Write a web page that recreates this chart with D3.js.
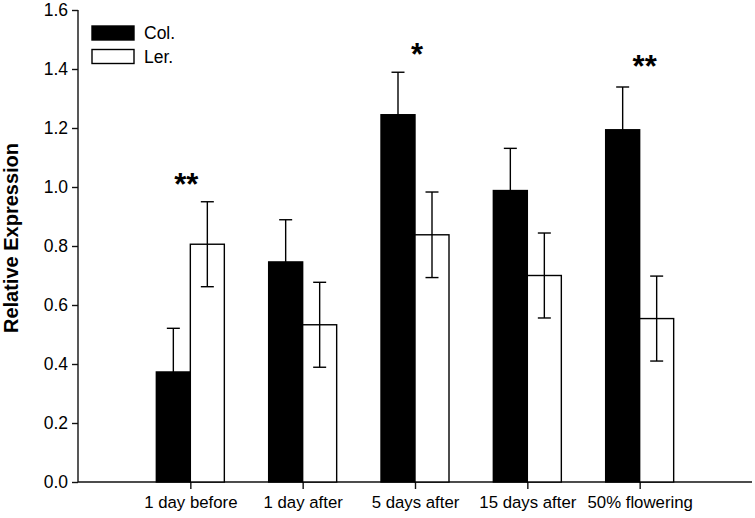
<!DOCTYPE html>
<html lang="en">
<head>
  <meta charset="UTF-8" />
  <title>Relative Expression</title>
  <script src="https://cdn.jsdelivr.net/npm/d3@7/dist/d3.min.js"></script>
  <style>
    body { margin: 0; background: #fff; }
    text { font-family: "Liberation Sans", Arial, sans-serif; fill: #000; }
  </style>
</head>
<body>
  <svg width="755" height="518"></svg>

  <script>
    // data
    const categories = ['1 day before', '1 day after', '5 days after', '15 days after', '50% flowering'];
    const colValues = [0.373, 0.746, 1.245, 0.988, 1.194];
    const colErrors = [0.148, 0.143, 0.144, 0.143, 0.145];
    const lerValues = [0.806, 0.533, 0.838, 0.700, 0.554];
    const lerErrors = [0.144, 0.144, 0.145, 0.144, 0.144];
    const yTicks = [0, 0.2, 0.4, 0.6, 0.8, 1.0, 1.2, 1.4, 1.6];
    // significance marks: category index, label, y value of text centre, x shift
    const marks = [
      { i: 0, text: '**', y: 1.02, dx: -4 },
      { i: 2, text: '*', y: 1.46, dx: 2 },
      { i: 4, text: '**', y: 1.42, dx: 5 },
    ];

    const svg = d3.select('svg');
    const plotL = 78, plotR = 752, plotT = 10, plotB = 482;
    const barW = 34;

    // categories sit on slots 1..5 of a 0..6 scale
    const x = d3.scaleLinear().domain([0, categories.length + 1]).range([plotL, plotR]);
    const y = d3.scaleLinear().domain([0, 1.6]).range([plotB, plotT]);

    // y axis
    const yAxis = svg.append('g')
      .attr('transform', `translate(${plotL},0)`)
      .call(d3.axisLeft(y).tickValues(yTicks).tickFormat(d3.format('.1f')).tickSize(6).tickPadding(4));
    yAxis.select('.domain').attr('d', `M0,${plotT}V${plotB}`);
    yAxis.selectAll('text').style('font-size', '17.5px');

    // x axis
    const xAxis = svg.append('g')
      .attr('transform', `translate(0,${plotB})`)
      .call(d3.axisBottom(x)
        .tickValues(categories.map((d, i) => i + 1))
        .tickFormat((d) => categories[d - 1])
        .tickSize(7).tickPadding(7));
    xAxis.select('.domain').attr('d', `M${plotL},0H${plotR}`);
    xAxis.selectAll('text').style('font-size', '16.8px');

    svg.selectAll('.domain, .tick line').attr('stroke', '#111').attr('stroke-width', 1.4);

    // bars
    const series = [
      { name: 'Col.', values: colValues, errors: colErrors, fill: '#000', off: -barW },
      { name: 'Ler.', values: lerValues, errors: lerErrors, fill: '#fff', off: 0 },
    ];

    series.forEach((s) => {
      const g = svg.append('g');
      g.selectAll('rect')
        .data(s.values)
        .enter()
        .append('rect')
        .attr('x', (d, i) => x(i + 1) + s.off)
        .attr('y', (d) => y(d))
        .attr('width', barW)
        .attr('height', (d) => y(0) - y(d))
        .attr('fill', s.fill)
        .attr('stroke', '#000')
        .attr('stroke-width', 1.4);

      // error bars
      const eb = g.selectAll('g.err')
        .data(s.values.map((v, i) => ({ v, e: s.errors[i], cx: x(i + 1) + s.off + barW / 2 })))
        .enter()
        .append('g')
        .attr('class', 'err')
        .attr('stroke', '#000')
        .attr('stroke-width', 1.4);
      eb.append('line')
        .attr('x1', (d) => d.cx).attr('x2', (d) => d.cx)
        .attr('y1', (d) => y(d.v - d.e)).attr('y2', (d) => y(d.v + d.e));
      eb.append('line')
        .attr('x1', (d) => d.cx - 6.5).attr('x2', (d) => d.cx + 6.5)
        .attr('y1', (d) => y(d.v + d.e)).attr('y2', (d) => y(d.v + d.e));
      eb.append('line')
        .attr('x1', (d) => d.cx - 6.5).attr('x2', (d) => d.cx + 6.5)
        .attr('y1', (d) => y(d.v - d.e)).attr('y2', (d) => y(d.v - d.e));
    });

    // significance asterisks
    svg.append('g')
      .selectAll('text')
      .data(marks)
      .enter()
      .append('text')
      .attr('x', (d) => x(d.i + 1) + d.dx)
      .attr('y', (d) => y(d.y) + 14)
      .attr('text-anchor', 'middle')
      .style('font-size', '31px')
      .style('font-weight', 'bold')
      .text((d) => d.text);

    // legend
    const legend = svg.append('g')
      .selectAll('g')
      .data(series)
      .enter()
      .append('g')
      .attr('transform', (d, i) => `translate(92,${26 + i * 23.5})`);
    legend.append('rect')
      .attr('width', 42).attr('height', 14)
      .attr('fill', (d) => d.fill)
      .attr('stroke', '#000')
      .attr('stroke-width', 1.4);
    legend.append('text')
      .attr('x', 52).attr('y', 7)
      .attr('dy', '0.35em')
      .style('font-size', '17.5px')
      .text((d) => d.name);

    // y label
    svg.append('text')
      .attr('transform', `translate(18,238) rotate(-90)`)
      .attr('text-anchor', 'middle')
      .style('font-size', '20px')
      .style('font-weight', 'bold')
      .text('Relative Expression');
  </script>
</body>
</html>
